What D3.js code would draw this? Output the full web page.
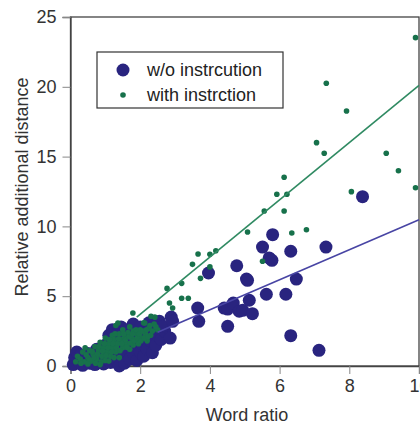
<!DOCTYPE html>
<html>
<head>
<meta charset="utf-8">
<script src="https://cdn.jsdelivr.net/npm/d3@7"></script>
<style>
  body { margin: 0; background: #fff; }
  svg { display: block; font-family: "Liberation Sans", Arial, Helvetica, sans-serif; }
</style>
</head>
<body>
<svg width="420" height="426"></svg>
<script>
// [word ratio, relative additional distance]
const withoutInstruction = [
  [0.08,0.1],[0.12,0.6],[0.18,1.0],[0.25,0.3],[0.3,0.8],[0.35,0.05],[0.45,0.5],[0.5,0.9],
  [0.55,0.2],[0.65,0.7],[0.7,0.1],[0.75,1.2],[0.8,0.4],[0.9,0.9],[0.95,0.15],[1.0,1.5],
  [1.05,0.6],[1.1,2.2],[1.15,0.25],[1.2,1.0],[1.2,2.6],[1.25,1.8],[1.3,0.5],[1.35,2.3],
  [1.4,0.0],[1.4,1.4],[1.45,2.8],[1.5,0.7],[1.5,2.0],[1.55,0.2],[1.6,1.1],[1.6,2.6],
  [1.65,1.7],[1.7,0.5],[1.75,2.3],[1.8,0.9],[1.8,3.0],[1.85,1.5],[1.9,0.4],[1.95,2.1],
  [2.0,1.0],[2.0,2.8],[2.05,1.6],[2.1,0.7],[2.15,2.4],[2.2,1.2],[2.25,3.1],[2.3,1.8],
  [2.35,0.95],[2.4,2.6],[2.45,1.5],[2.5,2.2],[2.55,3.2],[2.6,1.9],[2.7,2.5],
  [2.64,2.84],[2.86,2.0],[2.89,3.51],[2.93,3.2],[3.65,4.15],[3.68,3.2],[3.96,6.66],
  [4.41,4.15],[4.51,4.08],[4.51,2.84],[4.67,4.51],[4.77,7.18],[4.84,3.92],[4.94,3.99],
  [5.05,6.23],[5.08,6.14],[5.13,4.71],[5.22,3.75],[5.51,8.52],[5.62,5.14],[5.70,7.74],
  [5.78,7.57],[5.80,9.41],[6.18,5.14],[6.32,8.22],[6.32,2.17],[6.48,6.23],[7.13,1.12],
  [7.33,8.52],[8.38,12.13]
];

const withInstruction = [
  [0.15,0.3],[0.2,0.7],[0.28,0.5],[0.35,1.0],[0.4,0.3],[0.42,1.3],[0.5,0.6],[0.55,1.1],
  [0.6,0.35],[0.65,0.85],[0.7,1.4],[0.75,0.5],[0.8,1.1],[0.85,1.7],[0.9,0.7],[0.95,1.3],
  [1.0,0.4],[1.0,2.0],[1.05,1.0],[1.1,1.6],[1.15,0.7],[1.2,1.3],[1.2,2.2],[1.25,1.9],
  [1.3,1.0],[1.3,2.9],[1.35,1.6],[1.4,2.3],[1.4,0.6],[1.45,1.9],[1.5,1.3],[1.5,2.6],
  [1.55,2.1],[1.6,1.6],[1.65,2.4],[1.7,1.2],[1.7,2.8],[1.75,2.0],[1.8,1.5],[1.8,2.5],
  [1.85,1.9],[1.9,2.3],[1.95,1.6],[2.0,2.6],[2.05,2.0],[2.1,3.1],[2.15,2.3],[2.2,1.8],
  [2.25,2.7],[2.3,2.2],[2.4,3.0],[2.5,2.6],
  [0.3,0.2],[0.45,0.8],[0.55,0.45],[0.62,1.05],[0.68,0.6],[0.72,0.2],[0.78,0.85],[0.82,1.4],
  [0.88,0.3],[0.92,1.05],[0.98,1.6],[1.02,0.75],[1.08,1.3],[1.12,1.9],[1.18,1.0],[1.22,1.6],
  [1.28,2.3],[1.32,1.3],[1.38,1.95],[1.42,1.1],[1.48,1.6],[1.52,2.3],[1.58,1.9],[1.62,1.35],
  [1.68,2.1],[1.72,1.65],[1.78,2.3],[1.82,1.8],[1.88,2.6],[1.92,2.0],[1.98,2.3],[2.02,1.8],
  [2.08,2.5],[2.12,2.0],[2.18,2.6],[2.22,2.1],[2.28,2.9],[2.35,2.5],[2.45,2.8],[0.5,0.15],
  [0.85,0.1],[1.1,0.35],[1.25,0.6],
  [1.36,3.08],[1.79,3.8],[2.13,3.08],[2.31,3.56],[2.42,3.5],[2.77,5.56],[2.84,4.51],
  [2.93,4.15],[3.19,5.92],[3.19,4.85],[3.38,4.85],[3.5,7.28],[3.66,8.02],[3.73,6.28],
  [4.0,8.0],[4.0,7.1],[4.17,8.26],[5.08,9.6],[5.51,7.5],[5.56,11.1],[5.92,12.3],
  [6.13,11.1],[6.13,13.52],[6.21,12.3],[6.35,9.53],[6.77,9.76],[7.06,16.0],[7.28,15.24],
  [7.34,20.25],[7.92,18.27],[8.06,12.49],[9.06,15.24],[9.41,13.99],[9.9,12.77],[9.9,23.52]
];

// fitted lines: [slope, intercept, xStart, xEnd]
const fitWithout = [1.074, -0.27, 2.5, 10];
const fitWith = [2.05, -0.4, 1.9, 10];

const xTicks = [0, 2, 4, 6, 8, 10];
const yTicks = [0, 5, 10, 15, 20, 25];
const legendLabels = ["w/o instrcution", "with instrction"];

const BLUE = "#29247f";
const GREEN = "#17714b";

const svg = d3.select("svg");
const x = d3.scaleLinear().domain([0, 10]).range([70.5, 419]);
const y = d3.scaleLinear().domain([0, 25]).range([366, 17]);

// frame
svg.append("rect")
  .attr("x", x(0)).attr("y", y(25))
  .attr("width", x(10) - x(0)).attr("height", y(0) - y(25))
  .attr("fill", "none").attr("stroke", "#444").attr("stroke-width", 1.3);

const xAxis = svg.append("g")
  .attr("transform", `translate(0,${y(0)})`)
  .call(d3.axisBottom(x).tickValues(xTicks).tickSize(8).tickPadding(5).tickFormat(d3.format("d")));
const yAxis = svg.append("g")
  .attr("transform", `translate(${x(0)},0)`)
  .call(d3.axisLeft(y).tickValues(yTicks).tickSize(8).tickPadding(6).tickFormat(d3.format("d")));

[xAxis, yAxis].forEach(g => {
  g.select(".domain").attr("stroke", "#444").attr("stroke-width", 1.3);
  g.selectAll(".tick line").attr("stroke", "#888");
  g.selectAll(".tick text").attr("fill", "#333").style("font-size", "18px")
    .style("font-family", "'Liberation Sans', Arial, sans-serif");
});

// points
svg.append("g").selectAll("circle")
  .data(withoutInstruction)
  .join("circle")
  .attr("cx", d => x(d[0])).attr("cy", d => y(d[1]))
  .attr("r", 6.5).attr("fill", BLUE);

svg.append("g").selectAll("circle")
  .data(withInstruction)
  .join("circle")
  .attr("cx", d => x(d[0])).attr("cy", d => y(d[1]))
  .attr("r", 2.8).attr("fill", GREEN);

// fit lines
function fitLine(f, color) {
  svg.append("line")
    .attr("x1", x(f[2])).attr("y1", y(f[0] * f[2] + f[1]))
    .attr("x2", x(f[3])).attr("y2", y(f[0] * f[3] + f[1]))
    .attr("stroke", color).attr("stroke-width", 1.6);
}
fitLine(fitWithout, "#4845a4");
fitLine(fitWith, "#2f8a62");

// legend
const legend = svg.append("g");
legend.append("rect")
  .attr("x", 97).attr("y", 52).attr("width", 186).attr("height", 56)
  .attr("fill", "#fff").attr("stroke", "#333").attr("stroke-width", 1.2);
legend.append("circle").attr("cx", 123).attr("cy", 70).attr("r", 6.5).attr("fill", BLUE);
legend.append("circle").attr("cx", 123).attr("cy", 95).attr("r", 2.8).attr("fill", GREEN);
legend.selectAll("text")
  .data(legendLabels)
  .join("text")
  .attr("x", 147).attr("y", (d, i) => 76 + i * 25)
  .attr("fill", "#222").style("font-size", "18px")
  .text(d => d);

// axis titles
svg.append("text")
  .attr("x", 247).attr("y", 421)
  .attr("text-anchor", "middle").attr("fill", "#333").style("font-size", "18px")
  .text("Word ratio");
svg.append("text")
  .attr("transform", "translate(28,187) rotate(-90)")
  .attr("text-anchor", "middle").attr("fill", "#333").style("font-size", "18px")
  .text("Relative additional distance");
</script>
</body>
</html>
